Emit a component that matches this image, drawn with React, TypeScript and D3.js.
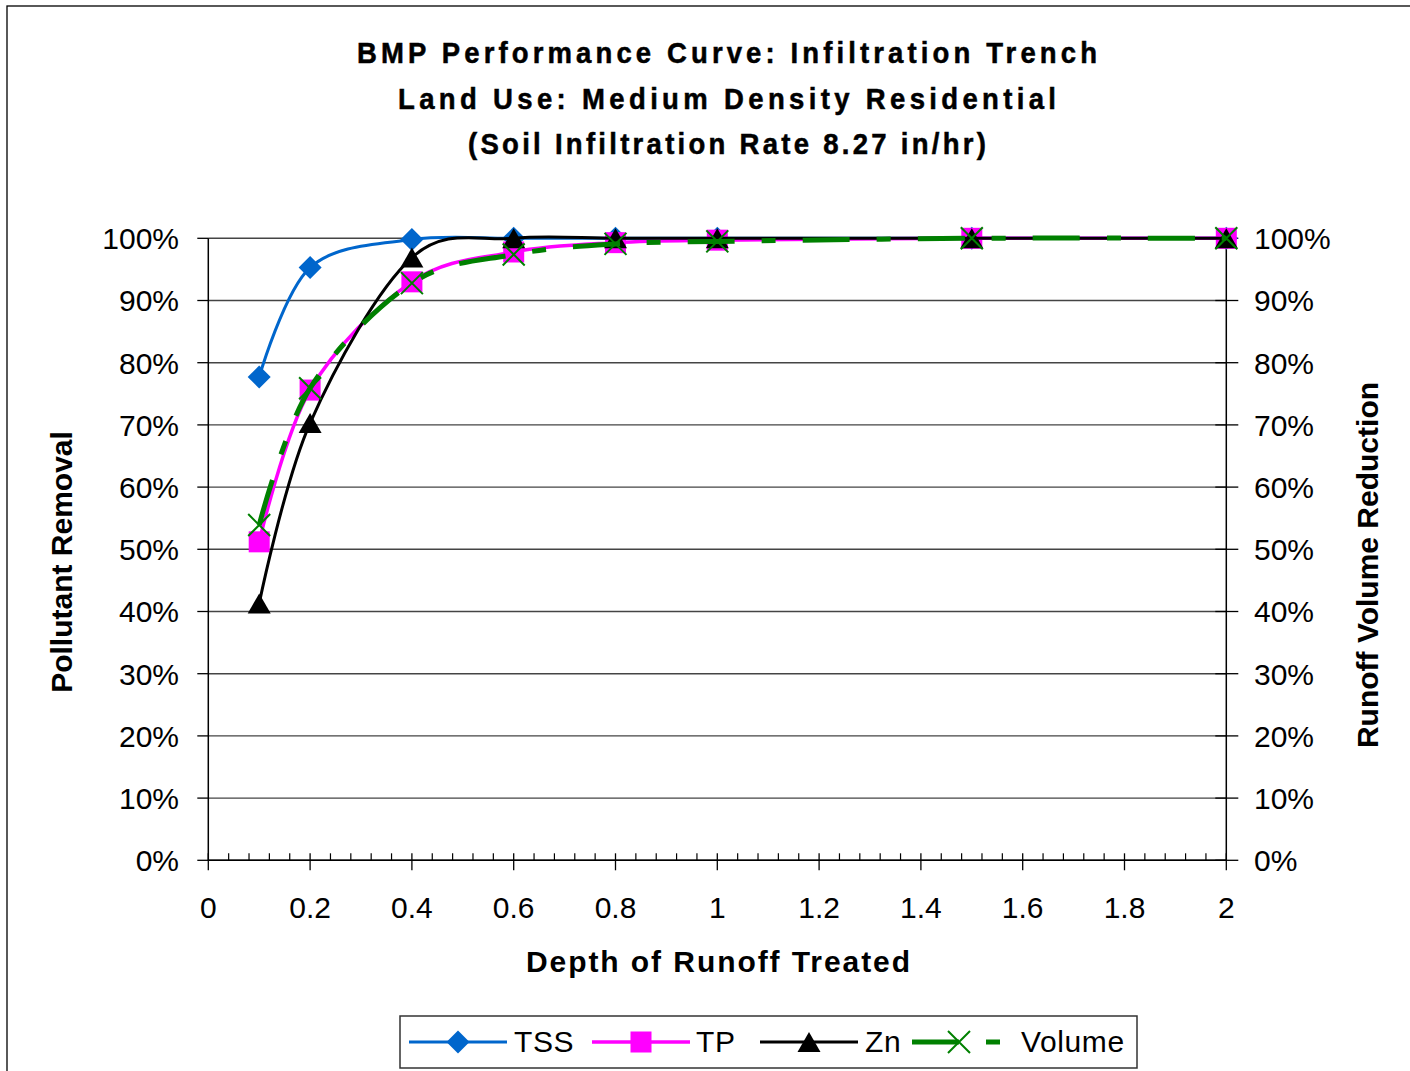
import React from 'react';
import * as d3 from 'd3';

const depths = [0.1, 0.2, 0.4, 0.6, 0.8, 1, 1.5, 2];
const tssValues = [77.7, 95.3, 99.8, 100, 100, 100, 100, 100];
const tpValues = [51.2, 75.6, 93.0, 97.8, 99.3, 99.7, 100, 100];
const znValues = [41.3, 70.3, 96.9, 100, 100, 100, 100, 100];
const volumeValues = [53.9, 75.9, 92.8, 97.4, 99.1, 99.5, 100, 100];

const xMajorTicks = [0, 0.2, 0.4, 0.6, 0.8, 1, 1.2, 1.4, 1.6, 1.8, 2];
const yTicks = [0, 10, 20, 30, 40, 50, 60, 70, 80, 90, 100];
const titleLines = [
  'BMP Performance Curve: Infiltration Trench',
  'Land Use: Medium Density Residential',
  '(Soil Infiltration Rate 8.27 in/hr)',
];
const titleWidths = [740, 658, 518];
const xTitle = 'Depth of Runoff Treated';
const yLeftTitle = 'Pollutant Removal';
const yRightTitle = 'Runoff Volume Reduction';

const FONT = '"Liberation Sans", Arial, Helvetica, sans-serif';

type Marker = 'diamond' | 'square' | 'triangle' | 'x';

const seriesDefs: { name: string; values: number[]; color: string; width: number; dash?: string; marker: Marker }[] = [
  { name: 'TSS', values: tssValues, color: '#0066CC', width: 3, marker: 'diamond' },
  { name: 'TP', values: tpValues, color: '#FF00FF', width: 3.5, marker: 'square' },
  { name: 'Zn', values: znValues, color: '#000000', width: 3, marker: 'triangle' },
  { name: 'Volume', values: volumeValues, color: '#008000', width: 5, dash: '47 27 14 27', marker: 'x' },
];

function MarkerShape({ kind, cx, cy, color }: { kind: Marker; cx: number; cy: number; color: string }) {
  if (kind === 'diamond') {
    const r = 11.5;
    return <path d={`M${cx},${cy - r}L${cx + r},${cy}L${cx},${cy + r}L${cx - r},${cy}Z`} fill={color} />;
  }
  if (kind === 'square') {
    const s = 21;
    return <rect x={cx - s / 2} y={cy - s / 2} width={s} height={s} fill={color} />;
  }
  if (kind === 'triangle') {
    const w = 11.5;
    const h = 10;
    return <path d={`M${cx},${cy - h}L${cx + w},${cy + h}L${cx - w},${cy + h}Z`} fill={color} />;
  }
  const r = 11;
  return (
    <path
      d={`M${cx - r},${cy - r}L${cx + r},${cy + r}M${cx - r},${cy + r}L${cx + r},${cy - r}`}
      stroke={color}
      strokeWidth={2}
      fill="none"
    />
  );
}

export default function App() {
  const left = 208.3;
  const right = 1226.3;
  const top = 238.3;
  const bottom = 860.3;
  const x = d3.scaleLinear().domain([0, 2]).range([left, right]);
  const y = d3.scaleLinear().domain([0, 100]).range([bottom, top]);

  const line = d3
    .line<[number, number]>()
    .x((d) => x(d[0]))
    .y((d) => y(d[1]))
    .curve(d3.curveCardinal.tension(0));

  const minorTicks = d3.range(0, 51).map((i) => i * 0.04).filter((v) => Math.abs(v / 0.2 - Math.round(v / 0.2)) > 1e-6);

  const legendItems = [
    { lineStart: 409, markerX: 458, textX: 514 },
    { lineStart: 592, markerX: 641, textX: 696 },
    { lineStart: 760, markerX: 809, textX: 865 },
    { lineStart: 912, markerX: 959, textX: 1021 },
  ];
  const legendY = 1042;
  const titleScale = 0.95;

  return (
    <svg
      width={1410}
      height={1071}
      style={{ position: 'absolute', left: 0, top: 0, background: '#fff' }}
      fontFamily={FONT}
    >
      <rect x={0} y={0} width={1410} height={1071} fill="#fff" />
      <rect x={7} y={6} width={1440} height={1100} fill="none" stroke="#000" strokeWidth={1.3} />

      {/* title */}
      {titleLines.map((t, i) => (
        <text
          key={t}
          transform={`translate(727,${63 + i * 45.5}) scale(${titleScale},1)`}
          textAnchor="middle"
          fontSize={29}
          fontWeight="bold"
          stroke="#000"
          strokeWidth={0.5}
          textLength={titleWidths[i] / titleScale}
          lengthAdjust="spacing"
        >
          {t}
        </text>
      ))}

      {/* gridlines */}
      {yTicks.map((t) => (
        <line key={`g${t}`} x1={left} x2={right} y1={y(t)} y2={y(t)} stroke="#444" strokeWidth={1.4} />
      ))}

      {/* axes */}
      <line x1={left} x2={left} y1={top} y2={bottom} stroke="#000" strokeWidth={1.5} />
      <line x1={right} x2={right} y1={top} y2={bottom} stroke="#000" strokeWidth={1.5} />
      <line x1={left} x2={right} y1={bottom} y2={bottom} stroke="#000" strokeWidth={1.5} />

      {yTicks.map((t) => (
        <g key={`yt${t}`}>
          <line x1={left - 11} x2={left} y1={y(t)} y2={y(t)} stroke="#000" strokeWidth={1.3} />
          <line x1={right - 11} x2={right + 12} y1={y(t)} y2={y(t)} stroke="#000" strokeWidth={1.3} />
          <text x={179} y={y(t)} dy="0.36em" textAnchor="end" fontSize={30}>
            {`${t}%`}
          </text>
          <text x={1254} y={y(t)} dy="0.36em" textAnchor="start" fontSize={30}>
            {`${t}%`}
          </text>
        </g>
      ))}

      {xMajorTicks.map((t) => (
        <g key={`xt${t}`}>
          <line x1={x(t)} x2={x(t)} y1={bottom - 7} y2={bottom + 10} stroke="#000" strokeWidth={1.3} />
          <text x={x(t)} y={918} textAnchor="middle" fontSize={30}>
            {d3.format('~g')(t)}
          </text>
        </g>
      ))}
      {minorTicks.map((t) => (
        <line key={`mt${t}`} x1={x(t)} x2={x(t)} y1={bottom - 7} y2={bottom} stroke="#000" strokeWidth={1.2} />
      ))}

      {/* axis titles */}
      <text x={718} y={972} textAnchor="middle" fontSize={30} fontWeight="bold" textLength={384} lengthAdjust="spacing">
        {xTitle}
      </text>
      <text transform="translate(72,562) rotate(-90)" textAnchor="middle" fontSize={30} fontWeight="bold">
        {yLeftTitle}
      </text>
      <text transform="translate(1378,565) rotate(-90)" textAnchor="middle" fontSize={30} fontWeight="bold">
        {yRightTitle}
      </text>

      {/* series */}
      {seriesDefs.map((s) => {
        const pts = depths.map((d, i) => [d, s.values[i]] as [number, number]);
        return (
          <g key={s.name}>
            <path
              d={line(pts) || ''}
              fill="none"
              stroke={s.color}
              strokeWidth={s.width}
              strokeDasharray={s.dash}
              strokeLinejoin="round"
            />
            {pts.map((p, i) => (
              <MarkerShape key={i} kind={s.marker} cx={x(p[0])} cy={y(p[1])} color={s.color} />
            ))}
          </g>
        );
      })}

      {/* legend */}
      <rect x={400} y={1016} width={737} height={52} fill="#fff" stroke="#333" strokeWidth={1.5} />
      {seriesDefs.map((s, i) => {
        const it = legendItems[i];
        return (
          <g key={`lg${s.name}`}>
            <line
              x1={it.lineStart}
              x2={it.lineStart + 98}
              y1={legendY}
              y2={legendY}
              stroke={s.color}
              strokeWidth={s.width}
              strokeDasharray={s.dash}
            />
            <MarkerShape kind={s.marker} cx={it.markerX} cy={legendY} color={s.color} />
            <text x={it.textX} y={1052} fontSize={30} letterSpacing={0.6}>
              {s.name}
            </text>
          </g>
        );
      })}
    </svg>
  );
}
